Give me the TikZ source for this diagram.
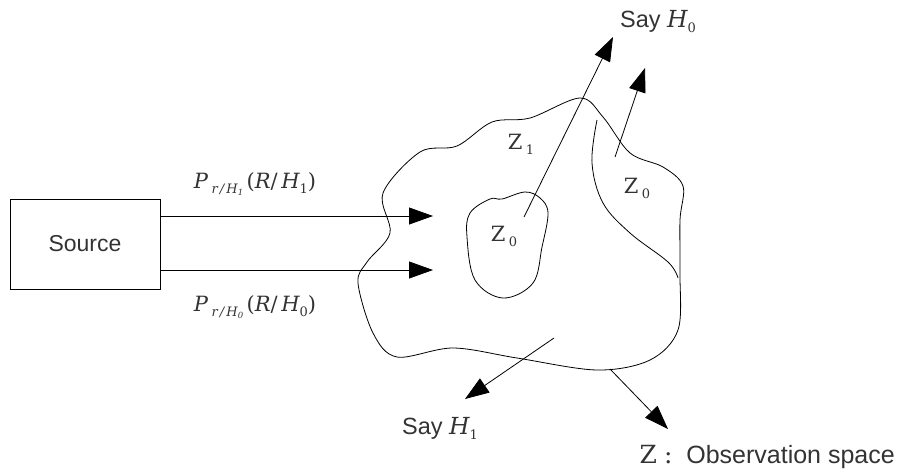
\documentclass[tikz,border=0pt]{standalone}
\usepackage{fontspec}
\setmainfont{Liberation Sans}
\newfontfamily\mathserif{DejaVu Serif}
\usetikzlibrary{arrows.meta}
% italic variable, upright subscript digit
\newcommand{\vv}[1]{{\mathserif\itshape #1}}
\newcommand{\uv}[1]{{\mathserif #1}}
\newcommand{\sub}[1]{\raisebox{-5pt}{\fontsize{13}{13}\selectfont\mathserif #1}}
\newcommand{\ssub}[1]{\raisebox{-2.5pt}{\fontsize{8.5}{8.5}\selectfont\mathserif #1}}
\begin{document}
\begin{tikzpicture}[x=1pt,y=-1pt,
  txt/.style={text=black!80, font=\fontsize{23.5}{26}\selectfont, inner sep=0pt},
  mtxt/.style={text=black!80, font=\fontsize{21}{24}\selectfont, inner sep=0pt},
  big/.style={-{Triangle[length=24pt,width=17pt]}, line width=0.8pt},
  outline/.style={line width=0.8pt}]
\useasboundingbox (0,0) rectangle (898,472);

% source box and the two channel arrows
\node[draw, line width=0.8pt, minimum width=150pt, minimum height=90pt, txt,
      font=\fontsize{23}{26}\selectfont] (src) at (85,244) {Source};
\coordinate (t1) at (433,216);
\coordinate (t0) at (433,270);
\draw[big] (src.east |- t1) -- (t1);
\draw[big] (src.east |- t0) -- (t0);
\node[mtxt] (p1) at (255,184) {\vv{P}\,\sub{\itshape r\,/\,H\ssub{1}}\,{\mathserif(}\vv{R}{\mathserif/}\,\vv{H}\sub{1}{\mathserif)}};
\node[mtxt] (p0) at (255,307) {\vv{P}\,\sub{\itshape r\,/\,H\ssub{0}}\,{\mathserif(}\vv{R}{\mathserif/}\,\vv{H}\sub{0}{\mathserif)}};

% observation space outline
\draw[outline] plot[smooth cycle, tension=0.55] coordinates {
  (580,98) (603,117) (630,153) (663,167) (683,186) (680,220) (680,273)
  (678,330) (650,360) (597,370) (517,358) (453,348) (397,357) (373,333)
  (358,283) (367,262) (390,233) (383,193) (420,152) (457,146) (492,122) (530,118)};

% inner decision region
\draw[outline] plot[smooth cycle, tension=0.6] coordinates {
  (525,192) (540,198) (548,213) (542,247) (533,283) (503,298) (475,280)
  (467,237) (470,213) (490,199) (502,199)};

% boundary of the right decision region
\draw[outline] plot[smooth, tension=0.6] coordinates {
  (597,120) (592,163) (603,203) (630,233) (668,262) (678,278)};

% region labels
\node[mtxt] (z1) at (521,144) {\uv{Z}\,\sub{1}};
\node[mtxt] (z0a) at (504,236) {\uv{Z}\,\sub{0}};
\node[mtxt] (z0b) at (637,188) {\uv{Z}\,\sub{0}};

% decision arrows
\coordinate (a0s) at (524,217);
\coordinate (a0e) at (613,37);
\draw[big] (a0s) -- (a0e);
\coordinate (b0s) at (615,157);
\coordinate (b0e) at (645,68);
\draw[big] (b0s) -- (b0e);
\coordinate (a1s) at (554,338);
\coordinate (a1e) at (465,399);
\draw[big] (a1s) -- (a1e);
\coordinate (os) at (610,369);
\coordinate (oe) at (668,429);
\draw[big] (os) -- (oe);

% decision and space labels
\node[txt] (say0) at (658,22) {Say \vv{H}\sub{0}};
\node[txt] (say1) at (440,428) {Say \vv{H}\sub{1}};
\node[txt, anchor=east, font=\fontsize{25}{28}\selectfont] (obs) at (895,457) {\uv{Z}\ {\mathserif:}\ \ Observation space};
\end{tikzpicture}
\end{document}
